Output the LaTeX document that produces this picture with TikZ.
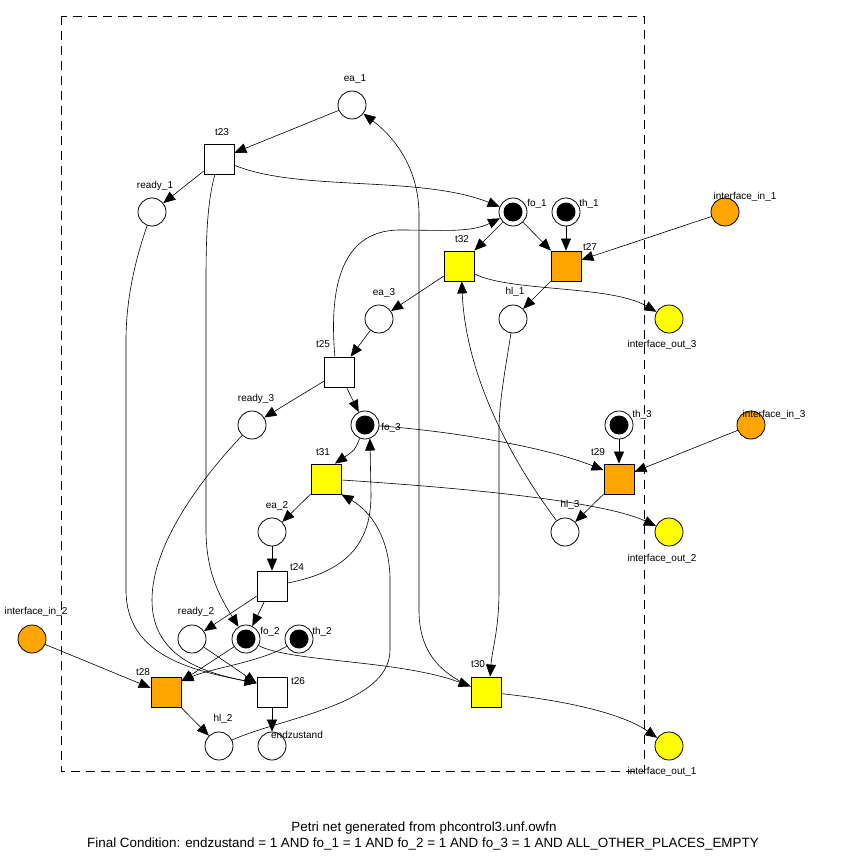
\documentclass[tikz,border=0pt]{standalone}
\usepackage{fontspec}
\setmainfont{Liberation Sans}
\usetikzlibrary{arrows.meta}
\definecolor{pnyellow}{RGB}{255,255,0}
\definecolor{pnorange}{RGB}{255,165,0}
\tikzset{
  placeN/.style={circle, draw, line width=0.8pt, minimum size=28pt, inner sep=0pt, fill=white},
  transN/.style={rectangle, draw, line width=0.8pt, minimum size=30pt, inner sep=0pt, fill=white},
  tokN/.style={circle, fill=black, minimum size=19pt, inner sep=0pt},
  lbl/.style={inner sep=0pt, font=\fontsize{10}{12}\selectfont},
  pnarc/.style={line width=0.6pt, -{Triangle[length=12pt,width=10pt]}},
  ttl/.style={inner sep=0pt, font=\fontsize{13.4}{15}\selectfont},
}
\begin{document}
\begin{tikzpicture}[x=1pt,y=-1pt]
\useasboundingbox (0,0) rectangle (849,861);
\fill[white] (0,0) rectangle (849,861);
\draw[dash pattern=on 9pt off 6pt, line width=0.7pt] (61,16) rectangle (644,771);

% places
\node[placeN] (ea_1) at (352,105) {};
\node[placeN] (ready_1) at (152,212) {};
\node[placeN] (fo_1) at (513,212) {};
\node[placeN] (th_1) at (566,212) {};
\node[placeN, fill=pnorange] (interface_in_1) at (725,212) {};
\node[placeN] (ea_3) at (379,319) {};
\node[placeN] (hl_1) at (513,319) {};
\node[placeN, fill=pnyellow] (interface_out_3) at (669,319) {};
\node[placeN] (ready_3) at (252,425) {};
\node[placeN] (fo_3) at (365,425) {};
\node[placeN] (th_3) at (619,425) {};
\node[placeN, fill=pnorange] (interface_in_3) at (751,425) {};
\node[placeN] (ea_2) at (272,532) {};
\node[placeN] (hl_3) at (565,532) {};
\node[placeN, fill=pnyellow] (interface_out_2) at (669,532) {};
\node[placeN, fill=pnorange] (interface_in_2) at (32,639) {};
\node[placeN] (ready_2) at (192,639) {};
\node[placeN] (fo_2) at (246,639) {};
\node[placeN] (th_2) at (299,639) {};
\node[placeN] (hl_2) at (219,746) {};
\node[placeN] (endzustand) at (272,746) {};
\node[placeN, fill=pnyellow] (interface_out_1) at (669,746) {};

% tokens
\node[tokN] (tk_fo_1) at (fo_1) {};
\node[tokN] (tk_th_1) at (th_1) {};
\node[tokN] (tk_fo_3) at (fo_3) {};
\node[tokN] (tk_th_3) at (th_3) {};
\node[tokN] (tk_fo_2) at (fo_2) {};
\node[tokN] (tk_th_2) at (th_2) {};

% transitions
\node[transN] (t23) at (219,159) {};
\node[transN, fill=pnyellow] (t32) at (459,266) {};
\node[transN, fill=pnorange] (t27) at (566,266) {};
\node[transN] (t25) at (339,372) {};
\node[transN, fill=pnyellow] (t31) at (326,479) {};
\node[transN, fill=pnorange] (t29) at (619,479) {};
\node[transN] (t24) at (272,586) {};
\node[transN, fill=pnorange] (t28) at (166,692) {};
\node[transN] (t26) at (272,692) {};
\node[transN, fill=pnyellow] (t30) at (486,692) {};

% arcs
\draw[pnarc] (ea_1) -- (t23);
\draw[pnarc] (t23) -- (ready_1);
\draw[pnarc] (t23) .. controls (300,192) and (420,175) .. (fo_1);
\draw[pnarc] (t23) .. controls (208,200) and (206,230) .. (206,280) -- (206,530) .. controls (206,575) and (222,600) .. (fo_2);
\draw[pnarc] (ready_1) .. controls (135,260) and (126,300) .. (126,340) -- (126,590) .. controls (126,655) and (190,670) .. (t26.150);
\draw[pnarc] (ready_3) .. controls (200,480) and (152,545) .. (152,600) .. controls (152,655) and (200,672) .. (t26.150);
\draw[pnarc] (ready_2) -- (t26.150);
\draw[pnarc] (t24) -- (ready_2);
\draw[pnarc] (t24) -- (fo_2);
\draw[pnarc] (t24) .. controls (345,572) and (371,545) .. (371,495) -- (fo_3.-70);
\draw[pnarc] (ea_2) -- (t24);
\draw[pnarc] (t31) -- (ea_2);
\draw[pnarc] (fo_3) .. controls (355,450) .. (t31.60);
\draw[pnarc] (t25) -- (fo_3);
\draw[pnarc] (t25) -- (ready_3);
\draw[pnarc] (ea_3) -- (t25);
\draw[pnarc] (t32) -- (ea_3);
\draw[pnarc] (fo_1) -- (t32);
\draw[pnarc] (fo_1) -- (t27);
\draw[pnarc] (th_1) -- (t27);
\draw[pnarc] (interface_in_1) -- (t27.22);
\draw[pnarc] (t27) -- (hl_1);
\draw[pnarc] (hl_1) .. controls (507,360) and (499,400) .. (499,430) -- (499,590) .. controls (499,630) and (492,650) .. (t30.75);
\draw[pnarc] (t30.160) .. controls (438,672) and (419,650) .. (419,610) -- (419,215) .. controls (419,172) and (398,140) .. (ea_1);
\draw[pnarc] (fo_2) .. controls (290,662) and (400,660) .. (t30.160);
\draw[pnarc] (t30) .. controls (560,700) and (620,712) .. (interface_out_1);
\draw[pnarc] (t31) .. controls (450,487) and (600,500) .. (interface_out_2);
\draw[pnarc] (fo_3) .. controls (440,430) and (540,445) .. (t29.150);
\draw[pnarc] (th_3) -- (t29);
\draw[pnarc] (interface_in_3) -- (t29.25);
\draw[pnarc] (t29) -- (hl_3);
\draw[pnarc] (hl_3) .. controls (515,465) and (466,380) .. (t32.-80);
\draw[pnarc] (t32) .. controls (510,292) and (610,285) .. (interface_out_3);
\draw[pnarc] (t25.105) .. controls (330,300) and (335,230) .. (400,230) .. controls (440,230) and (470,233) .. (fo_1);
\draw[pnarc] (hl_2) .. controls (280,718) and (390,705) .. (390,650) -- (390,580) .. controls (390,540) and (372,512) .. (t31.-45);
\draw[pnarc] (fo_2) -- (t28.35);
\draw[pnarc] (th_2) .. controls (260,662) and (212,668) .. (t28.35);
\draw[pnarc] (interface_in_2) -- (t28.165);
\draw[pnarc] (t28) -- (hl_2);
\draw[pnarc] (t26) -- (endzustand);

% labels
\node[lbl] (l_ea_1) at (355,79) {ea\_1};
\node[lbl] (l_t23) at (222,132) {t23};
\node[lbl] (l_ready_1) at (155,186) {ready\_1};
\node[lbl] (l_fo_1) at (537,204) {fo\_1};
\node[lbl] (l_th_1) at (589,204) {th\_1};
\node[lbl] (l_in_1) at (745,197) {interface\_in\_1};
\node[lbl] (l_t32) at (462,239) {t32};
\node[lbl] (l_t27) at (590,247) {t27};
\node[lbl] (l_hl_1) at (515,292) {hl\_1};
\node[lbl] (l_out_3) at (662,345) {interface\_out\_3};
\node[lbl] (l_ea_3) at (384,293) {ea\_3};
\node[lbl] (l_t25) at (323,344) {t25};
\node[lbl] (l_ready_3) at (256,399) {ready\_3};
\node[lbl] (l_fo_3) at (391,428) {fo\_3};
\node[lbl] (l_t31) at (323,452) {t31};
\node[lbl] (l_ea_2) at (277,506) {ea\_2};
\node[lbl] (l_t24) at (297,567) {t24};
\node[lbl] (l_th_3) at (642,415) {th\_3};
\node[lbl] (l_in_3) at (774,415) {interface\_in\_3};
\node[lbl] (l_t29) at (598,452) {t29};
\node[lbl] (l_hl_3) at (570,505) {hl\_3};
\node[lbl] (l_out_2) at (662,559) {interface\_out\_2};
\node[lbl] (l_t30) at (478,664) {t30};
\node[lbl] (l_out_1) at (662,772) {interface\_out\_1};
\node[lbl] (l_in_2) at (36,612) {interface\_in\_2};
\node[lbl] (l_ready_2) at (196,612) {ready\_2};
\node[lbl] (l_fo_2) at (270,632) {fo\_2};
\node[lbl] (l_th_2) at (322,632) {th\_2};
\node[lbl] (l_t28) at (143,672) {t28};
\node[lbl] (l_t26) at (298,681) {t26};
\node[lbl] (l_hl_2) at (223,719) {hl\_2};
\node[lbl] (l_endz) at (297,735) {endzustand};

% title
\node[ttl] (title1) at (424,828) {Petri net generated from phcontrol3.unf.owfn};
\node[ttl] (title2) at (423,844) {Final Condition: endzustand = 1 AND fo\_1 = 1 AND fo\_2 = 1 AND fo\_3 = 1 AND ALL\_OTHER\_PLACES\_EMPTY};
\end{tikzpicture}
\end{document}
